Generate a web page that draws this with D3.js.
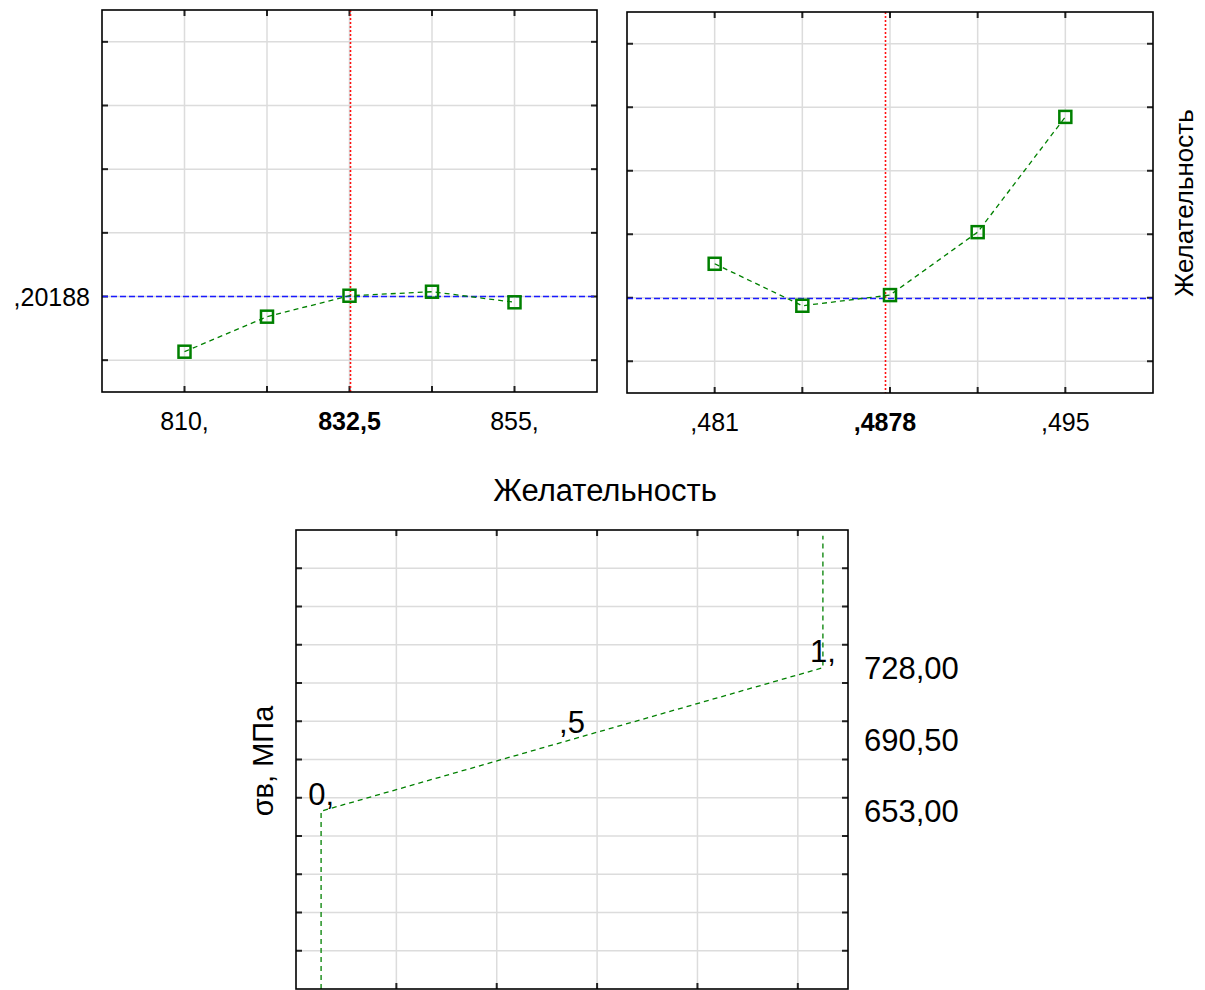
<!DOCTYPE html>
<html lang="ru">
<head>
<meta charset="UTF-8">
<title>Профили желательности</title>
<script src="https://d3js.org/d3.v7.min.js"></script>
<style>
  html, body { margin:0; padding:0; background:#fff; }
  svg { display:block; font-family:"Liberation Sans", Arial, sans-serif; }
  .grid line { stroke:#dcdcdc; stroke-width:1.5; }
  .frame { fill:none; stroke:#000; stroke-width:1.6; }
  .tick-in { stroke:#222; stroke-width:2; }
</style>
</head>
<body>
<div id="chart"></div>
<script>
// --- top panels: desirability profiles ---
const desirY = 0.20188;                 // current desirability
const yGrid = [0.19188, 0.20188, 0.21188, 0.22188, 0.23188, 0.24188];
const yDomain = [0.18688, 0.24688];

const p1X = [810, 821.25, 832.5, 843.75, 855];
const p1Y = [0.19321, 0.19871, 0.2020, 0.20263, 0.20097];
const p1Cur = 832.5;
const p1Labels = [{v:810, t:"810,"}, {v:832.5, t:"832,5", bold:true}, {v:855, t:"855,"}];

const p2X = [0.481, 0.4845, 0.488, 0.4915, 0.495];
const p2Y = [0.20723, 0.20062, 0.2023, 0.21221, 0.23036];
const p2Cur = 0.4878;
const p2Labels = [{v:0.481, t:",481"}, {v:0.4878, t:",4878", bold:true}, {v:0.495, t:",495"}];

// --- bottom panel: desirability function for sigma_b ---
const fnD = [0, 0, 0.5, 1, 1];
const fnS = [560, 653, 690.5, 728, 797];
const fnDLabels = [{d:0, s:653, t:"0,"}, {d:0.5, s:690.5, t:",5"}, {d:1, s:728, t:"1,"}];
const fnSLabels = [{s:728, t:"728,00"}, {s:690.5, t:"690,50"}, {s:653, t:"653,00"}];
const fnXGrid = [0.15, 0.35, 0.55, 0.75, 0.95];
const fnYGrid = [580, 600, 620, 640, 660, 680, 700, 720, 740, 760, 780];

const W = 1205, H = 990;
const svg = d3.select("#chart").append("svg").attr("width", W).attr("height", H);
const green = "#008000";

function frameTicks(g, x, y, xs, ys) {
  const [x0, x1] = x.range(), [y0, y1] = y.range();
  const gr = g.append("g").attr("class", "grid");
  gr.selectAll(".gx").data(xs).join("line").attr("x1", d => x(d)).attr("x2", d => x(d)).attr("y1", y0).attr("y2", y1);
  gr.selectAll(".gy").data(ys).join("line").attr("x1", x0).attr("x2", x1).attr("y1", d => y(d)).attr("y2", d => y(d));
  const tk = g.append("g").attr("class", "tick-in");
  const L = 6;
  xs.forEach(d => {
    tk.append("line").attr("x1", x(d)).attr("x2", x(d)).attr("y1", y1).attr("y2", y1 + L);
    tk.append("line").attr("x1", x(d)).attr("x2", x(d)).attr("y1", y0).attr("y2", y0 - L);
  });
  ys.forEach(d => {
    tk.append("line").attr("x1", x0).attr("x2", x0 + L).attr("y1", y(d)).attr("y2", y(d));
    tk.append("line").attr("x1", x1).attr("x2", x1 - L).attr("y1", y(d)).attr("y2", y(d));
  });
}

function profile(box, xs, ys, step, cur, labels) {
  const g = svg.append("g");
  const x = d3.scaleLinear().domain([xs[0] - step, xs[xs.length - 1] + step]).range([box.l, box.r]);
  const y = d3.scaleLinear().domain(yDomain).range([box.b, box.t]);
  frameTicks(g, x, y, xs, yGrid);
  const yc = Math.round(y(desirY)) + 0.5, xc = Math.round(x(cur)) + 0.5;
  g.append("line").attr("x1", box.l).attr("x2", box.r).attr("y1", yc).attr("y2", yc)
    .attr("stroke", "#1a1aff").attr("stroke-width", 1.5).attr("stroke-dasharray", "6,3");
  g.append("line").attr("x1", xc).attr("x2", xc).attr("y1", box.t).attr("y2", box.b)
    .attr("stroke", "#ff1010").attr("stroke-width", 1.6).attr("stroke-dasharray", "2,2");
  const pts = xs.map((v, i) => [v, ys[i]]);
  g.append("path").datum(pts).attr("fill", "none").attr("stroke", green).attr("stroke-width", 1.3)
    .attr("stroke-dasharray", "5,4").attr("d", d3.line().x(d => x(d[0])).y(d => y(d[1])));
  g.selectAll(".mk").data(pts).join("rect")
    .attr("x", d => x(d[0]) - 6).attr("y", d => y(d[1]) - 6).attr("width", 12).attr("height", 12)
    .attr("fill", "none").attr("stroke", green).attr("stroke-width", 2.5);
  g.append("rect").attr("class", "frame").attr("x", box.l).attr("y", box.t)
    .attr("width", box.r - box.l).attr("height", box.b - box.t);
  g.selectAll(".xl").data(labels).join("text")
    .attr("x", d => x(d.v)).attr("y", box.b + 38).attr("text-anchor", "middle")
    .attr("font-size", 25).attr("font-weight", d => d.bold ? "bold" : "normal").text(d => d.t);
  return {x, y};
}

const a = profile({l:102, r:597, t:10, b:392}, p1X, p1Y, 11.25, p1Cur, p1Labels);
svg.append("text").attr("x", 90).attr("y", a.y(desirY)).attr("dy", "0.36em").attr("text-anchor", "end")
  .attr("font-size", 25).text(",20188");
profile({l:627, r:1153, t:12, b:393}, p2X, p2Y, 0.0035, p2Cur, p2Labels);
svg.append("text").attr("transform", "translate(1193,203) rotate(-90)").attr("text-anchor", "middle")
  .attr("font-size", 26).text("Желательность");

// bottom panel
const bx = d3.scaleLinear().domain([-0.05, 1.05]).range([296, 848]);
const by = d3.scaleLinear().domain([560, 800]).range([989, 530]);
const gb = svg.append("g");
frameTicks(gb, bx, by, fnXGrid, fnYGrid);
const fpts = fnD.map((d, i) => [d, fnS[i]]);
gb.append("path").datum(fpts).attr("fill", "none").attr("stroke", green).attr("stroke-width", 1.3)
  .attr("stroke-dasharray", "5,4").attr("d", d3.line().x(d => bx(d[0])).y(d => by(d[1])));
gb.append("rect").attr("class", "frame").attr("x", 296).attr("y", 530).attr("width", 552).attr("height", 459);
gb.selectAll(".dl").data(fnDLabels).join("text")
  .attr("x", d => bx(d.d)).attr("y", d => by(d.s) - 6).attr("text-anchor", "middle")
  .attr("font-size", 31).text(d => d.t);
gb.selectAll(".sl").data(fnSLabels).join("text")
  .attr("x", 864).attr("y", d => by(d.s)).attr("dy", "0.36em")
  .attr("font-size", 31).text(d => d.t);
svg.append("text").attr("x", 605).attr("y", 501).attr("text-anchor", "middle")
  .attr("font-size", 31).text("Желательность");
svg.append("text").attr("transform", "translate(273,761) rotate(-90)").attr("text-anchor", "middle")
  .attr("font-size", 29).text("σв, МПа");
</script>
</body>
</html>
